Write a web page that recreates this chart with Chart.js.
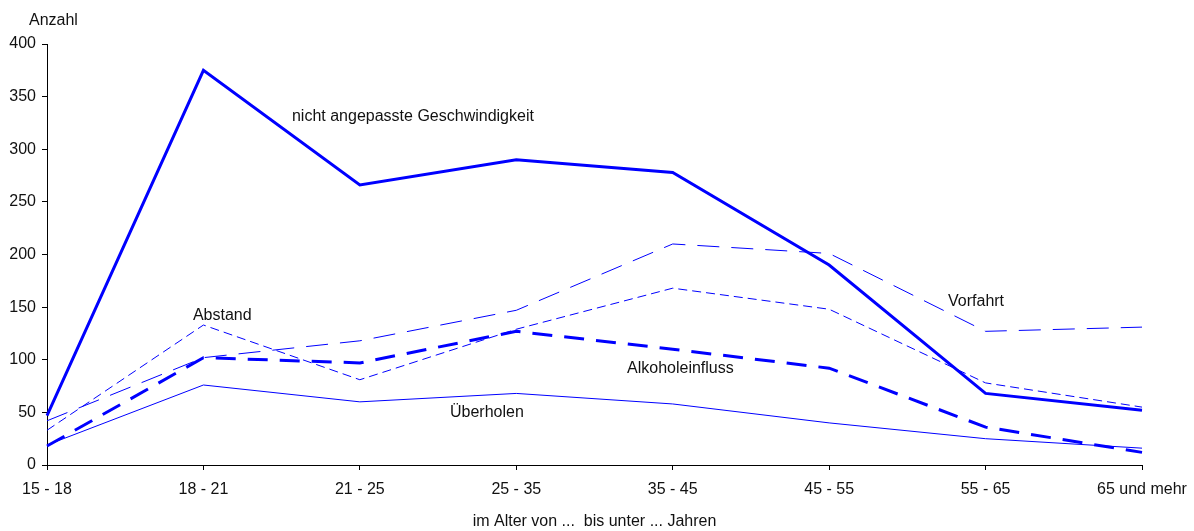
<!DOCTYPE html>
<html>
<head>
<meta charset="utf-8">
<script src="https://cdn.jsdelivr.net/npm/chart.js@4.4.1/dist/chart.umd.min.js"></script>
<style>
html,body{margin:0;padding:0;background:#fff;}
#wrap{width:1194px;height:531px;position:relative;}
</style>
</head>
<body>
<div id="wrap"><canvas id="c" width="1194" height="531"></canvas></div>
<script>
const categories = ["15 - 18","18 - 21","21 - 25","25 - 35","35 - 45","45 - 55","55 - 65","65 und mehr"];
const geschwindigkeit = [47, 375, 266, 290, 278, 190, 68, 52];
const vorfahrt = [42, 102, 118, 147, 210, 201, 127, 131];
const abstand = [33, 133, 81, 129, 168, 148, 78, 55];
const alkohol = [18, 102, 97, 127, 110, 92, 36, 12];
const ueberholen = [19, 76, 60, 68, 58, 40, 25, 16];
const yTicks = [0, 50, 100, 150, 200, 250, 300, 350, 400];
const yTitle = "Anzahl";
const xTitle = "im Alter von ...  bis unter ... Jahren";
// series labels: [text, category index position, value position]
const seriesLabels = [
  ["nicht angepasste Geschwindigkeit", 1.566, 331],
  ["Abstand", 0.933, 142],
  ["Vorfahrt", 5.76, 155],
  ["Alkoholeinfluss", 3.708, 92],
  ["Überholen", 2.576, 50]
];

const FONT = "Liberation Sans, Arial, sans-serif";
const FS = 16;
const BLUE = "#0000ff";

const labelPlugin = {
  id: "labels",
  afterDraw(chart) {
    const ctx = chart.ctx;
    const xs = chart.scales.x, ys = chart.scales.y;
    ctx.save();
    ctx.fillStyle = "#111";
    ctx.font = FS + "px " + FONT;
    ctx.textBaseline = "middle";
    ctx.textAlign = "left";
    seriesLabels.forEach(l => {
      ctx.fillText(l[0], xs.getPixelForValue(l[1]), ys.getPixelForValue(l[2]));
    });
    ctx.textAlign = "left";
    ctx.fillText(yTitle, 29, 21);
    ctx.textAlign = "center";
    ctx.fillText(xTitle, (chart.chartArea.left + chart.chartArea.right) / 2, 522);
    ctx.restore();
  }
};

new Chart(document.getElementById("c"), {
  type: "line",
  data: {
    labels: categories,
    datasets: [
      {label: "Überholen", data: ueberholen, borderColor: BLUE, borderWidth: 1, pointRadius: 0, tension: 0, order: 5},
      {label: "Abstand", data: abstand, borderColor: BLUE, borderWidth: 1, borderDash: [9, 5], pointRadius: 0, tension: 0, order: 4},
      {label: "Vorfahrt", data: vorfahrt, borderColor: BLUE, borderWidth: 1, borderDash: [22, 12], pointRadius: 0, tension: 0, order: 3},
      {label: "Alkoholeinfluss", data: alkohol, borderColor: BLUE, borderWidth: 3, borderDash: [20, 12], pointRadius: 0, tension: 0, order: 2},
      {label: "nicht angepasste Geschwindigkeit", data: geschwindigkeit, borderColor: BLUE, borderWidth: 3, pointRadius: 0, tension: 0, order: 1}
    ]
  },
  options: {
    responsive: false,
    animation: false,
    devicePixelRatio: 1,
    layout: {padding: {top: 44, right: 52, bottom: 0, left: 0}},
    plugins: {legend: {display: false}, tooltip: {enabled: false}},
    scales: {
      x: {
        type: "category",
        offset: false,
        grid: {display: true, drawOnChartArea: false, drawTicks: true, tickLength: 5, color: "#000"},
        border: {display: true, color: "#000", width: 1},
        ticks: {color: "#111", font: {family: FONT, size: FS}, padding: 10, maxRotation: 0, autoSkip: false},
        afterFit(s) { s.height = 66; s.paddingLeft = 0; s.paddingRight = 0; }
      },
      y: {
        min: 0, max: 400,
        afterBuildTicks(s) { s.ticks = yTicks.map(v => ({value: v})); },
        grid: {display: true, drawOnChartArea: false, drawTicks: true, tickLength: 5, color: "#000"},
        border: {display: true, color: "#000", width: 1},
        ticks: {color: "#111", font: {family: FONT, size: FS}, padding: 6},
        afterFit(s) { s.width = 47; }
      }
    }
  },
  plugins: [labelPlugin]
});
</script>
</body>
</html>
